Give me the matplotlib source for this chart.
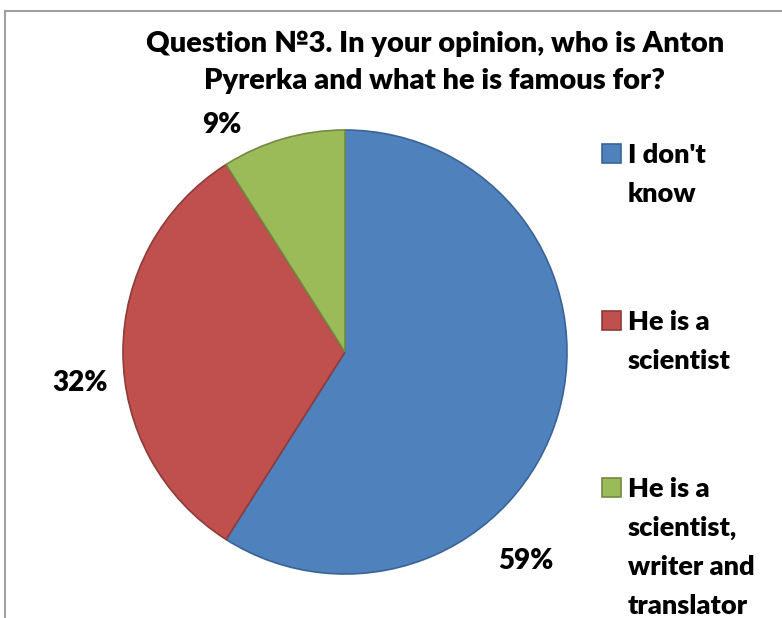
import matplotlib
matplotlib.use("Agg")
import matplotlib.pyplot as plt
from matplotlib.patches import Rectangle
from matplotlib.lines import Line2D

plt.rcParams["font.family"] = ["Lato", "DejaVu Sans"]

# Data
labels = ["I don't\nknow", "He is a\nscientist", "He is a\nscientist,\nwriter and\ntranslator"]
values = [59, 32, 9]
colors = ["#4F81BD", "#C0504D", "#9BBB59"]
edges = ["#3A6496", "#8E3B39", "#728A42"]
title = "Question №3. In your opinion, who is Anton\nPyrerka and what he is famous for?"

W, H = 782, 618
fig = plt.figure(figsize=(W / 100, H / 100), dpi=100)


def fx(px):
    return px / W


def fy(py):
    return 1 - py / H


# chart border (only left and top edges visible)
fig.add_artist(Line2D([fx(4.5), fx(4.5)], [fy(11), fy(H + 5)], color="#A0A0A0", lw=1.5))
fig.add_artist(Line2D([fx(4.5), fx(W + 5)], [fy(11), fy(11)], color="#A0A0A0", lw=1.5))

# pie: centre (345, 352), radius 222 px
cx, cy, r = 345, 352, 222
ax = fig.add_axes([fx(cx - r), fy(cy + r), 2 * r / W, 2 * r / H])
wedges, _ = ax.pie(values, colors=colors, startangle=90, counterclock=False, radius=1)
for w, ec in zip(wedges, edges):
    w.set_edgecolor(ec)
    w.set_linewidth(1.2)
ax.set_xlim(-1, 1)
ax.set_ylim(-1, 1)
ax.set_aspect("equal")

# data labels (best-fit positions, in pixels)
label_pos = [(526, 561), (80, 383), (222, 125)]
for v, (px, py) in zip(values, label_pos):
    ax.text((px - cx) / r, (cy - py) / r, f"{v}%", ha="center", va="center",
            fontsize=20, fontweight="heavy", color="black")

# title, one line at a time
for i, line in enumerate(title.split("\n")):
    fig.text(fx(435), fy(52 + 36.5 * i), line, ha="center", va="baseline",
             fontsize=21, fontweight="heavy")

# legend
first_baselines = [163, 330, 497]
for lab, c, ec, base in zip(labels, colors, edges, first_baselines):
    fig.add_artist(Rectangle((fx(602), fy(base - 0.5)), 19 / W, 19 / H,
                             facecolor=c, edgecolor=ec, lw=1.2))
    for i, line in enumerate(lab.split("\n")):
        fig.text(fx(628), fy(base + 39 * i), line, ha="left", va="baseline",
                 fontsize=19.5, fontweight="heavy")

fig.savefig("out.png", dpi=100)
